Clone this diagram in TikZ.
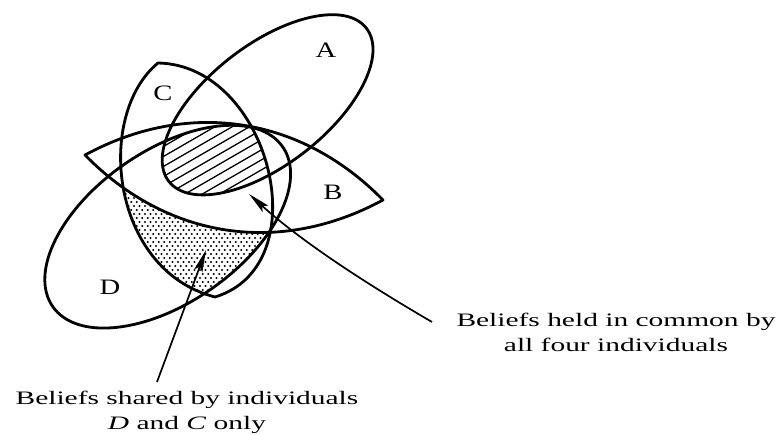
\documentclass[tikz,border=0pt]{standalone}
\usepackage{fontspec}
\setmainfont{Liberation Serif}
\newfontfamily\captfont[FakeStretch=1.55]{Liberation Serif}
\newfontfamily\labfont[FakeStretch=1.3]{Liberation Serif}
\usetikzlibrary{arrows.meta}
\begin{document}
\begin{tikzpicture}[x=1pt,y=-1pt,
  outline/.style={line width=2.8pt, line join=round},
  pointer/.style={line width=1.7pt, -{Stealth[length=22pt,width=8.5pt,inset=4pt]}},
  hatch/.style={line width=1.3pt},
  lab/.style={font=\labfont\fontsize{22}{24}\selectfont, inner sep=0pt},
  capt/.style={font=\captfont\fontsize{19}{25}\selectfont, align=center, inner sep=0pt}]
\useasboundingbox (0,0) rectangle (780,435);

% hatched region: A, B, C and D
\begin{scope}
  \clip[rotate around={37.8:(267.6,104.8)}] (267.6,104.8) ellipse [x radius=125, y radius=60];
  \clip (158,63) .. controls (95,115) and (110,270) .. (215,297) .. controls (320,265) and (270,65) .. (158,63) -- cycle;
  \clip[rotate around={34.8:(167.7,226.7)}] (167.7,226.7) ellipse [x radius=140, y radius=76];
  \clip (85,155) to[bend left=37] (383,200) to[bend left=37] (85,155) -- cycle;
  \foreach \i in {-14,...,14}
    \draw[hatch] (140,{150+10*\i}) -- (300,{150+10*\i-92.4});
\end{scope}

% dotted region: D and C only
\begin{scope}
  \clip (158,63) .. controls (95,115) and (110,270) .. (215,297) .. controls (320,265) and (270,65) .. (158,63) -- cycle;
  \clip[rotate around={34.8:(167.7,226.7)}] (167.7,226.7) ellipse [x radius=140, y radius=76];
  \clip (85,155) to[bend right=37] (383,200) -- (383,440) -- (85,440) -- cycle;
  \foreach \r in {0,...,28}
    \foreach \c in {0,...,34}
      \fill ({112+5.5*\c+2.75*mod(\r,2)},{190+4*\r}) circle (1.15);
\end{scope}

% outlines
\draw[outline, rotate around={37.8:(267.6,104.8)}] (267.6,104.8) ellipse [x radius=125, y radius=60];
\draw[outline] (85,155) to[bend left=37] (383,200) to[bend left=37] (85,155) -- cycle;
\draw[outline] (158,63) .. controls (95,115) and (110,270) .. (215,297) .. controls (320,265) and (270,65) .. (158,63) -- cycle;
\draw[outline, rotate around={34.8:(167.7,226.7)}] (167.7,226.7) ellipse [x radius=140, y radius=76];

% labels
\node[lab] (la) at (326,50) {A};
\node[lab] (lb) at (333,192) {B};
\node[lab] (lc) at (163,93) {C};
\node[lab] (ld) at (110,287) {D};

% captions
\node[capt, anchor=north] (t1) at (616,313) {Beliefs held in common by\\all four individuals};
\node[capt, anchor=north] (t2) at (187,391) {Beliefs shared by individuals\\\textit{D} and \textit{C} only};

% pointers
\coordinate (s1) at (432,322);
\coordinate (h1) at (249,194);
\coordinate (s2) at (157,382);
\coordinate (h2) at (206,250);
\draw[pointer] (s1) .. controls (360,280) and (300,240) .. (h1);
\draw[pointer] (s2) -- (h2);
\end{tikzpicture}
\end{document}
